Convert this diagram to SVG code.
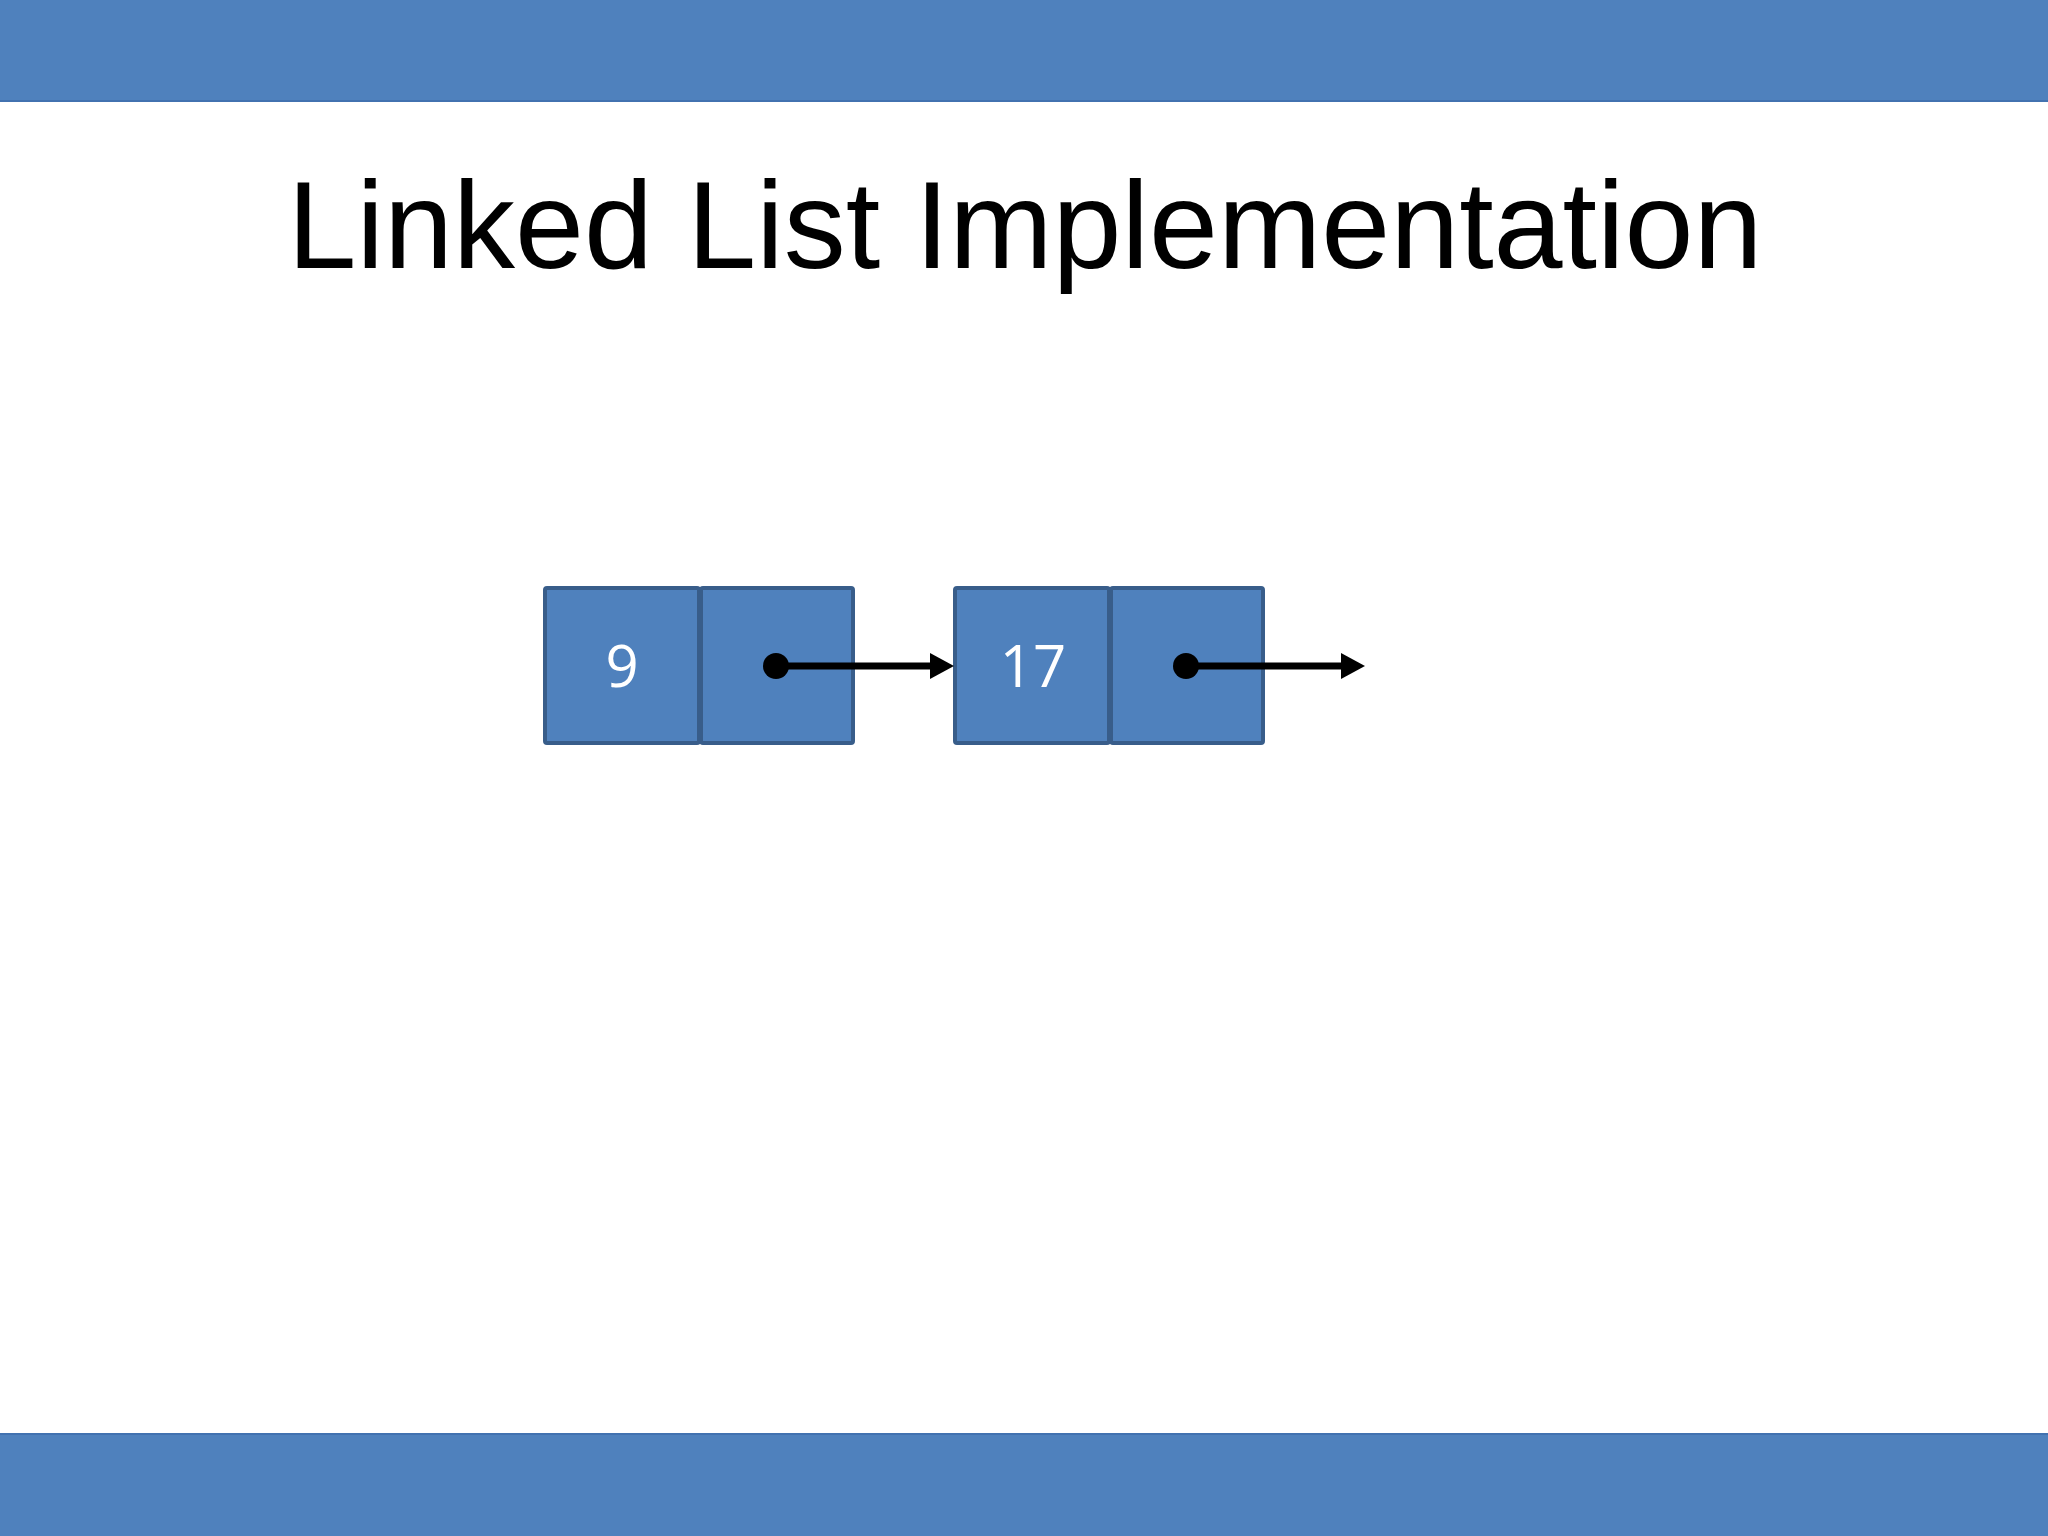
<svg xmlns="http://www.w3.org/2000/svg" width="2048" height="1536" viewBox="0 0 2048 1536">
<defs>
<style>
.bar{fill:#4F81BD}
.barline{stroke:#4272B0;stroke-width:2}
.cell{fill:#4F81BD;stroke:#385D8A;stroke-width:4}
.val{font-family:"Open Sans","Noto Sans",sans-serif;font-size:58px;fill:#FFFFFF;text-anchor:middle}
.title{font-family:"Liberation Sans",Arial,sans-serif;font-size:124px;fill:#000000;text-anchor:middle}
.link{stroke:#000000;stroke-width:7;fill:none}
</style>
<marker id="arrow" markerWidth="24" markerHeight="26" refX="0" refY="13" orient="auto" markerUnits="userSpaceOnUse" viewBox="0 0 24 26">
<path d="M0,0 L24,13 L0,26 z" fill="#000000"/>
</marker>
</defs>
<rect width="2048" height="1536" fill="#FFFFFF"/>
<rect class="bar" x="0" y="0" width="2048" height="102"/>
<line class="barline" x1="0" y1="101" x2="2048" y2="101"/>
<rect class="bar" x="0" y="1433" width="2048" height="103"/>
<line class="barline" x1="0" y1="1434" x2="2048" y2="1434"/>
<text class="title" x="1025" y="268">Linked List Implementation</text>
<g id="node1">
<rect class="cell" x="545" y="588" width="154" height="155" rx="2"/>
<rect class="cell" x="701" y="588" width="152" height="155" rx="2"/>
<text class="val" x="622" y="687">9</text>
</g>
<g id="node2">
<rect class="cell" x="955" y="588" width="154" height="155" rx="2"/>
<rect class="cell" x="1111" y="588" width="152" height="155" rx="2"/>
<text class="val" x="1033" y="687">17</text>
</g>
<g id="connectors">
<circle cx="776" cy="666" r="13" fill="#000000"/>
<line class="link" x1="776" y1="666" x2="930" y2="666" marker-end="url(#arrow)"/>
<circle cx="1186" cy="666" r="13" fill="#000000"/>
<line class="link" x1="1186" y1="666" x2="1341" y2="666" marker-end="url(#arrow)"/>
</g>
</svg>
